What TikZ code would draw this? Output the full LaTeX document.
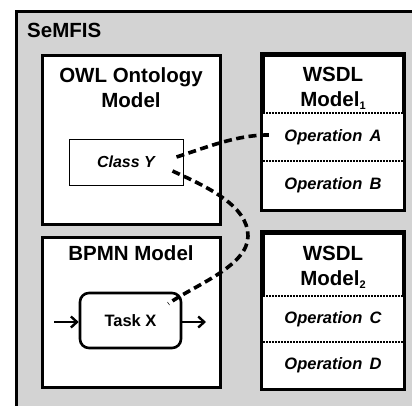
\documentclass[tikz,border=0pt]{standalone}
\usepackage{fontspec}
\setmainfont{Liberation Sans}
\usetikzlibrary{arrows.meta,calc}
\definecolor{bggray}{RGB}{211,211,211}
\newcommand{\smallsub}[1]{\raisebox{-0.3ex}{\fontsize{11}{11}\selectfont #1}}
\begin{document}
\begin{tikzpicture}[x=1pt,y=-1pt,
  box/.style={draw=black,line width=3pt,fill=white,inner sep=0pt},
  opbox/.style={fill=white,inner sep=0pt,minimum width=140pt},
  sep/.style={line width=1.6pt,dash pattern=on 2pt off 1pt},
  link/.style={line width=3.6pt,dash pattern=on 8pt off 4.5pt},
  title/.style={font=\fontsize{20.5}{25}\selectfont\bfseries,align=center,inner sep=0pt},
  optext/.style={font=\fontsize{16.5}{18}\selectfont\bfseries\itshape,inner sep=0pt},
  flow/.style={line width=2.6pt,-{Straight Barb[length=6pt,width=11pt,line width=2.4pt]}}]
\useasboundingbox (0,0) rectangle (412,405);
\clip (0,0) rectangle (412,405);
% outer frame
\node[draw=black,line width=2.8pt,fill=bggray,minimum width=420pt,minimum height=420pt,anchor=north west,inner sep=0pt] (semfis) at (15,10) {};
\node[font=\fontsize{20.5}{22}\selectfont\bfseries,anchor=west,inner sep=0pt] (semfislbl) at (27,30) {SeMFIS};
% OWL
\node[box,minimum width=178pt,minimum height=169pt] (owl) at (131,139.5) {};
\node[title] (owllbl) at (131,88) {OWL Ontology\\Model};
\node[draw=black,line width=1pt,fill=white,minimum width=114pt,minimum height=46pt,inner sep=0pt,font=\fontsize{16}{18}\selectfont\bfseries\itshape] (classy) at (126,162) {Class Y};
% BPMN
\node[box,minimum width=178pt,minimum height=150pt] (bpmn) at (131,312) {};
\node[title] (bpmnlbl) at (131,253) {BPMN Model};
\node[draw=black,line width=2.6pt,fill=white,rounded corners=9pt,minimum width=101pt,minimum height=55pt,inner sep=0pt,font=\fontsize{16.5}{18}\selectfont\bfseries] (taskx) at (130.5,320.5) {Task X};
\coordinate (inflow) at (54,322);
\coordinate (outflow) at (206,322);
\draw[flow] (inflow) -- (inflow -| taskx.west);
\draw[flow] (outflow -| taskx.east) -- (outflow);
% WSDL 1
\node[box,minimum width=140pt,minimum height=154pt] (wsdl1) at (333,132) {};
\node[title] (wsdl1lbl) at (333,88) {WSDL\\Model\smallsub{1}};
\node[opbox,minimum height=48pt,optext] (opA) at (333,137) {Operation\, A};
\node[opbox,minimum height=48pt,optext] (opB) at (333,185) {Operation\, B};
\draw[sep] (opA.north west) -- (opA.north east);
\draw[sep] (opB.north west) -- (opB.north east);
\draw[line width=3pt] (wsdl1.north west) rectangle (wsdl1.south east);
% WSDL 2
\node[box,minimum width=140pt,minimum height=155pt] (wsdl2) at (333,310.5) {};
\node[title] (wsdl2lbl) at (333,267) {WSDL\\Model\smallsub{2}};
\node[opbox,minimum height=46pt,optext] (opC) at (333,319) {Operation\, C};
\node[opbox,minimum height=46pt,optext] (opD) at (333,365) {Operation\, D};
\draw[sep] (opC.north west) -- (opC.north east);
\draw[sep] (opD.north west) -- (opD.north east);
\draw[line width=3pt] (wsdl2.north west) rectangle (wsdl2.south east);
% links
\draw[link] ($(classy.east)+(-7,-5)$) .. controls (205,148) and (238,134) .. ($(opA.west)+(9,-2)$);
\draw[link] ($(classy.east)+(-11,9)$) .. controls (205,186) and (248,205) .. (248,236)
  .. controls (248,266) and (195,285) .. ($(taskx.north east)+(-14,12)$);
\end{tikzpicture}
\end{document}
